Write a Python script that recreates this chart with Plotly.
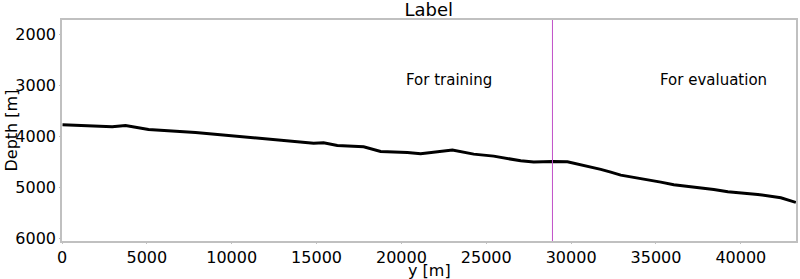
import plotly.graph_objects as go

# Horizon depth profile
y_pos = [30, 2959, 3743, 5099, 7870, 10817, 12097, 13470, 14826, 15415, 16223,
         17774, 18776, 20350, 21134, 23003, 24258, 25437, 27029, 27796, 28898,
         29782, 31156, 31745, 32335, 32925, 35283, 36049, 38407, 39233, 41001,
         42357, 43241]
depth = [3776, 3815, 3788, 3866, 3925, 4011, 4056, 4095, 4135, 4128, 4179,
         4207, 4297, 4316, 4344, 4271, 4350, 4389, 4481, 4506, 4493,
         4501, 4598, 4649, 4702, 4761, 4898, 4951, 5041, 5088, 5139,
         5205, 5295]

split_y = 28900
x_range = [0, 43250]
y_range = [6050, 1725]
x_ticks = [0, 5000, 10000, 15000, 20000, 25000, 30000, 35000, 40000]
y_ticks = [2000, 3000, 4000, 5000, 6000]
labels = ["For training", "For evaluation"]
label_x = [20150, 35100]
label_depth = 2900

font = "DejaVu Sans"
H = 279

fig = go.Figure()
fig.add_trace(go.Scatter(x=y_pos, y=depth, mode="lines",
                         line=dict(color="black", width=3), showlegend=False))
fig.add_trace(go.Scatter(x=[split_y, split_y], y=[y_range[1], y_range[0]], mode="lines",
                         line=dict(color="#c050c8", width=1), showlegend=False))

for t, xx in zip(labels, label_x):
    fig.add_annotation(x=xx, y=label_depth, text=t, showarrow=False,
                       xanchor="left", yanchor="middle",
                       font=dict(family=font, size=15, color="black"))

# axis titles as annotations for exact placement
fig.add_annotation(text="y [m]", xref="paper", yref="paper", x=0.5, y=0,
                   yshift=-(270 - 241), xanchor="center", yanchor="middle",
                   showarrow=False, font=dict(family=font, size=16, color="black"))
fig.add_annotation(text="Depth [m]", xref="paper", yref="paper", x=0, y=0.5,
                   xshift=-(62 - 11), xanchor="center", yanchor="middle", textangle=-90,
                   showarrow=False, font=dict(family=font, size=16, color="black"))

axis_common = dict(showline=True, linecolor="#c0c0c0", linewidth=1.5, mirror=True,
                   showgrid=False, zeroline=False, ticks="outside", ticklen=1,
                   tickcolor="#c0c0c0", automargin=False,
                   tickfont=dict(family=font, size=16, color="black"))

fig.update_layout(
    width=800, height=H,
    margin=dict(l=62, r=4, t=20, b=38),
    plot_bgcolor="white", paper_bgcolor="white",
    title=dict(text="Label", x=0.536, xanchor="center", y=1 - 10 / H, yanchor="middle",
               yref="container", automargin=False,
               font=dict(family=font, size=18, color="black")),
    xaxis=dict(range=x_range, tickvals=x_ticks, ticktext=[str(v) for v in x_ticks],
               **axis_common),
    yaxis=dict(range=y_range, tickvals=y_ticks, ticktext=[str(v) for v in y_ticks],
               **axis_common),
)

fig.write_html("out.html", config={"displayModeBar": False},
               post_script="document.body.style.margin='0';document.body.style.overflow='hidden';")
